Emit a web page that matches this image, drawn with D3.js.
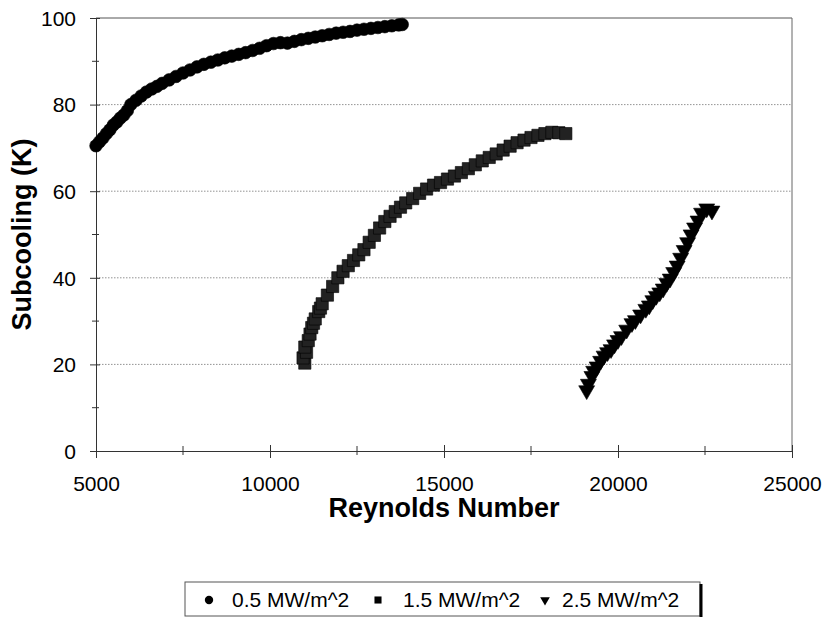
<!DOCTYPE html>
<html>
<head>
<meta charset="utf-8">
<script src="https://cdn.jsdelivr.net/npm/d3@7"></script>
<style>
  body { margin: 0; background: #fff; }
  text { font-family: Arial, "Liberation Sans", sans-serif; fill: #000; }
</style>
</head>
<body>
<div id="chart"></div>
<script>
// data
var re05 = [5000,5100,5200,5300,5400,5500,5600,5700,5800,5900,6000,6150,6300,6450,6600,6750,6900,7100,7300,7500,
            7700,7900,8100,8300,8500,8700,8900,9100,9300,9500,9700,9900,10100,10300,10500,10700,10900,11100,11300,11500,
            11700,11900,12100,12300,12500,12700,12900,13100,13300,13500,13700,13800];
var sub05 = [70.5,71.4,72.3,73.3,74.2,75.3,76.0,76.9,77.6,78.6,80.0,81.0,82.0,82.9,83.6,84.2,84.9,85.7,86.5,87.3,
             88.0,88.7,89.3,89.8,90.3,90.8,91.2,91.6,92.0,92.5,93.0,93.6,94.1,94.3,94.2,94.6,95.0,95.3,95.6,95.9,
             96.2,96.5,96.7,96.9,97.2,97.4,97.6,97.8,98.0,98.2,98.4,98.5];

var re15 = [11000,10950,11050,11000,11100,11150,11200,11250,11300,11400,11450,11500,11650,11800,11950,12100,12250,12400,12550,12700,
            12850,13000,13150,13300,13450,13600,13750,13900,14100,14300,14500,14700,14900,15100,15300,15500,15700,15900,16100,16300,
            16500,16700,16900,17100,17300,17500,17700,17900,18100,18300,18500];
var sub15 = [20.3,21.5,22.8,24.0,25.5,27.0,28.5,29.5,30.5,32.2,33.0,34.0,36.0,38.0,40.0,41.5,42.8,44.0,45.3,46.5,
             48.2,49.8,51.5,53.0,54.2,55.3,56.3,57.3,58.3,59.5,60.5,61.4,62.0,62.8,63.5,64.3,65.2,66.1,67.0,67.8,
             68.6,69.5,70.4,71.2,71.8,72.4,72.9,73.3,73.6,73.5,73.3];

var re25 = [19100,19150,19250,19300,19400,19500,19600,19700,19800,19900,20000,20100,20250,20400,20500,20650,20800,20900,21000,21100,
            21200,21300,21400,21500,21600,21700,21800,21900,22000,22100,22200,22300,22400,22550,22700];
var sub25 = [14.0,15.5,17.3,18.5,19.5,20.8,22.0,22.8,23.5,24.6,25.6,26.5,28.0,29.5,30.2,31.5,32.8,33.6,34.8,35.8,
             36.6,37.5,38.8,39.8,41.3,42.8,44.6,46.4,48.2,50.0,51.6,53.2,55.0,56.0,55.5];

var seriesNames = ["0.5 MW/m^2", "1.5 MW/m^2", "2.5 MW/m^2"];
var xTicks = [5000, 10000, 15000, 20000, 25000];
var xMinor = [7500, 12500, 17500, 22500];
var yTicks = [0, 20, 40, 60, 80, 100];
var yMinor = [10, 30, 50, 70, 90];

var margin = {top: 18, right: 31, bottom: 167, left: 96},
    width = 823 - margin.left - margin.right,
    height = 618 - margin.top - margin.bottom;

var svg = d3.select("#chart")
  .append("svg")
    .attr("width", 823)
    .attr("height", 618);

var g = svg.append("g")
    .attr("transform", "translate(" + margin.left + "," + margin.top + ")");

var x = d3.scaleLinear().domain([5000, 25000]).range([0, width]);
var y = d3.scaleLinear().domain([0, 100]).range([height, 0]);

// grid lines
g.selectAll(".grid")
  .data(yTicks.filter(function(d) { return d > 0 && d < 100; }))
  .enter().append("line")
    .attr("x1", 0).attr("x2", width)
    .attr("y1", function(d) { return y(d); })
    .attr("y2", function(d) { return y(d); })
    .attr("stroke", "#777")
    .attr("stroke-width", 0.8)
    .attr("stroke-dasharray", "1.5,1.5");

// frame top and right
g.append("line").attr("x1", 0).attr("x2", width).attr("y1", 0).attr("y2", 0)
  .attr("stroke", "#555").attr("stroke-width", 1);
g.append("line").attr("x1", width).attr("x2", width).attr("y1", 0).attr("y2", height)
  .attr("stroke", "#666").attr("stroke-width", 1);

// X axis
var xAxis = g.append("g")
  .attr("transform", "translate(0," + height + ")")
  .call(d3.axisBottom(x).tickValues(xTicks).tickSize(7).tickFormat(d3.format("d")));
xAxis.select(".domain").attr("stroke", "#333");
xAxis.selectAll(".tick line").attr("stroke", "#333").attr("y1", -6).attr("y2", 7);
xAxis.selectAll("text").attr("dy", 0).attr("y", 40).style("font-size", "21px")
  .attr("font-family", null);
g.selectAll(".xminor")
  .data(xMinor)
  .enter().append("line")
    .attr("x1", function(d) { return x(d); }).attr("x2", function(d) { return x(d); })
    .attr("y1", height - 5).attr("y2", height + 4)
    .attr("stroke", "#333");

// Y axis
var yAxis = g.append("g")
  .call(d3.axisLeft(y).tickValues(yTicks).tickSize(6));
yAxis.select(".domain").attr("stroke", "#333");
yAxis.selectAll(".tick line").attr("stroke", "#333").attr("x1", 4).attr("x2", -6);
yAxis.selectAll("text").attr("x", -20).attr("dy", "0.35em").style("font-size", "21px")
  .attr("font-family", null);
g.selectAll(".yminor")
  .data(yMinor)
  .enter().append("line")
    .attr("y1", function(d) { return y(d); }).attr("y2", function(d) { return y(d); })
    .attr("x1", -4).attr("x2", 3)
    .attr("stroke", "#333");

// axis titles
svg.append("text")
  .attr("x", margin.left + width / 2)
  .attr("y", 517)
  .attr("text-anchor", "middle")
  .style("font-size", "27px")
  .style("font-weight", "bold")
  .text("Reynolds Number");

svg.append("text")
  .attr("transform", "translate(31," + (margin.top + height / 2) + ")rotate(-90)")
  .attr("text-anchor", "middle")
  .style("font-size", "27px")
  .style("font-weight", "bold")
  .text("Subcooling (K)");

// markers
var circle = d3.symbol().type(d3.symbolCircle).size(125);
var square = d3.symbol().type(d3.symbolSquare).size(150);
var tri = d3.symbol().type(d3.symbolTriangle).size(110);

function drawSeries(xs, ys, sym, fill, rot) {
  g.append("g").selectAll("path")
    .data(xs.map(function(d, i) { return [d, ys[i]]; }))
    .enter().append("path")
      .attr("d", sym)
      .attr("transform", function(d) {
        return "translate(" + x(d[0]) + "," + y(d[1]) + ")" + (rot ? "rotate(180)" : "");
      })
      .attr("fill", fill)
      .attr("stroke", "#000")
      .attr("stroke-width", 0.6);
}
drawSeries(re05, sub05, circle, "#000", false);
drawSeries(re15, sub15, square, "#222", false);
drawSeries(re25, sub25, tri, "#000", true);

// legend
var lg = svg.append("g");
lg.append("rect")
  .attr("x", 185).attr("y", 582).attr("width", 515).attr("height", 34)
  .attr("fill", "#fff").attr("stroke", "#555").attr("stroke-width", 1);
lg.append("line").attr("x1", 701).attr("x2", 701).attr("y1", 584).attr("y2", 617)
  .attr("stroke", "#000").attr("stroke-width", 3);

var legSym = [d3.symbol().type(d3.symbolCircle).size(55),
              d3.symbol().type(d3.symbolSquare).size(50),
              d3.symbol().type(d3.symbolTriangle).size(40)];
var legMarkX = [209, 378, 545];
var legTextX = [232, 403, 562];
seriesNames.forEach(function(name, i) {
  lg.append("path")
    .attr("d", legSym[i])
    .attr("transform", "translate(" + legMarkX[i] + ",600)" + (i === 2 ? "rotate(180)" : ""))
    .attr("fill", "#000");
  lg.append("text")
    .attr("x", legTextX[i])
    .attr("y", 607)
    .style("font-size", "21px")
    .text(name);
});
</script>
</body>
</html>
